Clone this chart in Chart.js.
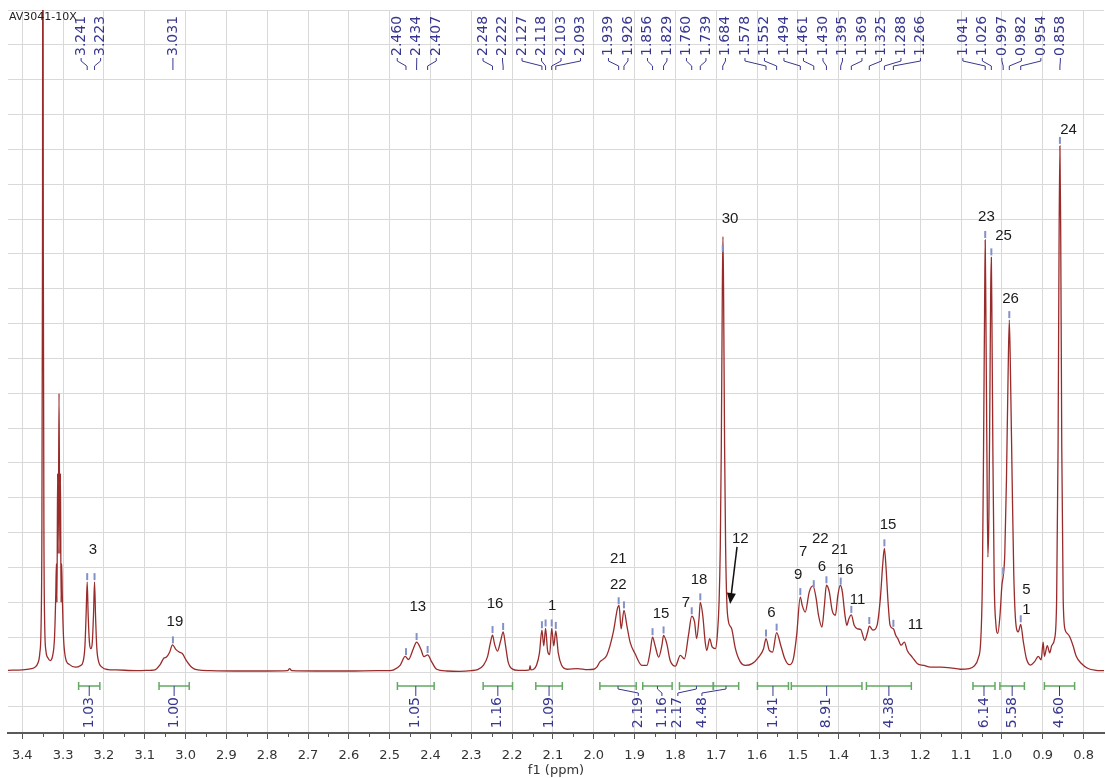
<!DOCTYPE html>
<html>
<head>
<meta charset="utf-8">
<script src="https://cdn.jsdelivr.net/npm/chart.js@4.4.1/dist/chart.umd.min.js"></script>
<style>
  html, body { margin: 0; padding: 0; background: #fff; }
  #wrap { width: 1106px; height: 778px; }
</style>
</head>
<body>
<div id="wrap"><canvas id="nmr" width="1106" height="778"></canvas></div>
<script>
// spectrum: chemical shift (ppm) and intensity (grid units, baseline ~0)
const ppm = [
  3.435, 3.40, 3.38, 3.37, 3.362, 3.357, 3.354, 3.352, 3.3505, 3.3495, 3.3485, 3.347, 3.345, 3.342, 3.337,
  3.332, 3.326, 3.321, 3.318, 3.3165, 3.315, 3.3135, 3.312, 3.310, 3.308, 3.3065, 3.305, 3.3035, 3.302, 3.299,
  3.294, 3.285, 3.270, 3.258, 3.251, 3.2465, 3.2435, 3.241, 3.2385, 3.2355, 3.232, 3.2285, 3.2255, 3.223, 3.2205,
  3.2175, 3.213, 3.205, 3.19, 3.17, 3.12, 3.085, 3.075, 3.063, 3.053, 3.047, 3.039, 3.032, 3.024, 3.015,
  3.008, 2.998, 2.985, 2.970, 2.94, 2.88, 2.80, 2.75, 2.745, 2.740, 2.68, 2.60, 2.53, 2.500, 2.490,
  2.474, 2.462, 2.454, 2.442, 2.434, 2.424, 2.416, 2.407, 2.397, 2.385, 2.36, 2.33, 2.30, 2.285, 2.270,
  2.260, 2.253, 2.248, 2.243, 2.236, 2.228, 2.222, 2.216, 2.210, 2.200, 2.185, 2.165, 2.158, 2.156, 2.154,
  2.147, 2.140, 2.133, 2.127, 2.1225, 2.118, 2.113, 2.108, 2.103, 2.098, 2.093, 2.087, 2.079, 2.065, 2.04,
  2.015, 2.000, 1.992, 1.985, 1.968, 1.952, 1.942, 1.938, 1.933, 1.926, 1.919, 1.911, 1.899, 1.882, 1.870,
  1.862, 1.856, 1.850, 1.841, 1.833, 1.829, 1.821, 1.813, 1.800, 1.788, 1.778, 1.768, 1.760, 1.753, 1.748,
  1.742, 1.739, 1.733, 1.727, 1.723, 1.716, 1.710, 1.702, 1.697, 1.693, 1.690, 1.6875, 1.685, 1.6835, 1.682,
  1.6795, 1.677, 1.674, 1.670, 1.666, 1.662, 1.653, 1.641, 1.629, 1.612, 1.596, 1.584, 1.578, 1.570, 1.562,
  1.552, 1.542, 1.532, 1.521, 1.511, 1.503, 1.494, 1.489, 1.482, 1.472, 1.463, 1.455, 1.450, 1.441, 1.435,
  1.430, 1.423, 1.416, 1.408, 1.402, 1.396, 1.391, 1.385, 1.380, 1.375, 1.369, 1.362, 1.354, 1.346, 1.336,
  1.329, 1.325, 1.316, 1.306, 1.298, 1.292, 1.288, 1.284, 1.279, 1.274, 1.266, 1.260, 1.255, 1.247, 1.239,
  1.232, 1.220, 1.207, 1.191, 1.175, 1.150, 1.126, 1.102, 1.080, 1.069, 1.058, 1.052, 1.048, 1.045, 1.0425,
  1.041, 1.0395, 1.037, 1.0345, 1.032, 1.0295, 1.0275, 1.026, 1.0245, 1.022, 1.019, 1.015, 1.010, 1.005, 1.000,
  0.997, 0.993, 0.989, 0.985, 0.982, 0.979, 0.975, 0.971, 0.966, 0.960, 0.954, 0.948, 0.940, 0.930, 0.920,
  0.911, 0.904, 0.899, 0.896, 0.889, 0.883, 0.878, 0.871, 0.866, 0.8625, 0.860, 0.858, 0.856, 0.8535, 0.850,
  0.845, 0.840, 0.834, 0.826, 0.818, 0.806, 0.789, 0.770, 0.750
];
const inten = [
  0.05, 0.06, 0.09, 0.13, 0.25, 0.55, 1.3, 4.0, 12, 26, 12, 4.0, 1.3, 0.6, 0.4,
  0.33, 0.45, 1.0, 2.2, 3.1, 2.0, 5.7, 3.4, 8.0, 3.4, 5.7, 2.0, 3.1, 2.2, 1.0,
  0.4, 0.22, 0.14, 0.18, 0.3, 0.75, 1.7, 2.58, 1.6, 0.85, 0.67, 0.85, 1.65, 2.58, 1.6,
  0.7, 0.3, 0.14, 0.07, 0.06, 0.04, 0.05, 0.06, 0.2, 0.4, 0.43, 0.57, 0.78, 0.65, 0.57,
  0.53, 0.33, 0.14, 0.06, 0.04, 0.03, 0.03, 0.04, 0.1, 0.04, 0.03, 0.03, 0.04, 0.04, 0.06,
  0.2, 0.45, 0.36, 0.67, 0.86, 0.67, 0.44, 0.49, 0.29, 0.08, 0.03, 0.02, 0.04, 0.07, 0.2,
  0.45, 0.85, 1.06, 0.8, 0.6, 0.9, 1.15, 0.75, 0.3, 0.09, 0.05, 0.05, 0.06, 0.18, 0.06,
  0.08, 0.2, 0.55, 1.2, 0.75, 1.25, 0.6, 0.5, 1.25, 0.75, 1.18, 0.55, 0.2, 0.08, 0.1,
  0.07, 0.08, 0.15, 0.29, 0.48, 1.15, 1.82, 1.91, 1.24, 1.77, 1.34, 0.86, 0.53, 0.19, 0.19,
  0.57, 1.0, 0.77, 0.43, 0.77, 1.05, 0.81, 0.34, 0.17, 0.48, 0.38, 1.05, 1.6, 1.43, 0.96,
  1.55, 2.0, 1.63, 0.86, 0.62, 0.96, 0.72, 0.67, 1.1, 2.0, 3.6, 6.5, 11.0, 12.5, 11.0,
  6.5, 3.6, 2.0, 1.45, 1.32, 1.24, 0.67, 0.29, 0.19, 0.24, 0.43, 0.67, 0.96, 0.62, 0.57,
  1.13, 0.77, 0.38, 0.21, 0.38, 1.05, 2.15, 1.9, 1.72, 2.3, 2.47, 2.1, 1.67, 1.29, 1.91,
  2.49, 2.3, 1.77, 1.63, 2.2, 2.49, 2.3, 1.67, 1.34, 1.53, 1.64, 1.34, 1.24, 1.22, 0.91,
  1.15, 1.32, 1.2, 1.34, 2.1, 3.1, 3.55, 3.0, 2.0, 1.34, 1.24, 1.05, 0.96, 0.77, 0.86,
  0.62, 0.43, 0.24, 0.19, 0.14, 0.14, 0.12, 0.08, 0.1, 0.16, 0.4, 0.9, 2.6, 6.5, 10.5,
  12.4, 10.5, 6.5, 3.3, 4.5, 8.0, 11.0, 11.9, 10.0, 6.0, 2.6, 1.4, 1.11, 1.6, 2.5,
  2.75, 3.4, 5.5, 8.5, 10.1, 8.5, 5.5, 2.8, 1.4, 1.15, 1.37, 0.9, 0.38, 0.2, 0.3,
  0.45, 0.35, 0.86, 0.45, 0.76, 0.55, 0.76, 0.96, 2.1, 6.5, 12.5, 15.1, 12.5, 6.5, 2.1,
  1.2, 1.11, 1.01, 0.76, 0.45, 0.25, 0.1, 0.05, 0.04
];

// peak picking labels along the top
const peakLabels = [
  '3.241', '3.223', '3.031', '2.460', '2.434', '2.407', '2.248', '2.222', '2.127', '2.118', '2.103', '2.093',
  '1.939', '1.926', '1.856', '1.829', '1.760', '1.739', '1.684', '1.578', '1.552', '1.494', '1.461', '1.430',
  '1.395', '1.369', '1.325', '1.288', '1.266', '1.041', '1.026', '0.997', '0.982', '0.954', '0.858'
];

// integrals: ranges (ppm), values, label position (null = centre of range)
const intFrom = [3.262, 3.065, 2.481, 2.271, 2.142, 1.985, 1.880, 1.790, 1.707, 1.599, 1.516, 1.332, 1.071, 1.005, 0.896];
const intTo = [3.210, 2.991, 2.391, 2.199, 2.077, 1.896, 1.808, 1.707, 1.645, 1.523, 1.343, 1.222, 1.017, 0.945, 0.822];
const intValue = ['1.03', '1.00', '1.05', '1.16', '1.09', '2.19', '1.16', '2.17', '4.48', '1.41', '8.91', '4.38', '6.14', '5.58', '4.60'];
const intLabelAt = [null, null, null, null, null, 1.891, 1.833, 1.794, 1.735, null, null, null, null, null, null];

// proton assignments written on the spectrum
const assignText = ['3', '19', '13', '16', '1', '21', '22', '15', '7', '18', '30', '12', '6', '9', '7', '22', '6', '21', '16', '11', '15', '11', '23', '25', '26', '5', '1', '24'];
const assignPpm = [3.227, 3.026, 2.431, 2.242, 2.102, 1.940, 1.940, 1.835, 1.774, 1.742, 1.666, 1.641, 1.565, 1.499, 1.487, 1.445, 1.441, 1.398, 1.384, 1.354, 1.279, 1.212, 1.038, 0.996, 0.979, 0.940, 0.940, 0.837];
const assignInt = [3.50, 1.43, 1.87, 1.95, 1.89, 3.24, 2.50, 1.66, 1.98, 2.64, 13.0, 3.82, 1.69, 2.78, 3.44, 3.82, 3.01, 3.50, 2.93, 2.07, 4.22, 1.35, 13.06, 12.51, 10.70, 2.35, 1.78, 15.55];
const arrowFrom = [1.649, 3.59];
const arrowTo = [1.666, 1.95];

const NAVY = '#37378f';
const LABEL_FONT = '14px "DejaVu Sans"';

const nmrDecor = {
  id: 'nmrDecor',
  afterDatasetsDraw(chart) {
    const ctx = chart.ctx;
    const xs = chart.scales.x, ys = chart.scales.y;
    const area = chart.chartArea;
    const pts = chart.getDatasetMeta(0).data;

    function lineY(v) {
      for (let i = 0; i < ppm.length - 1; i++) {
        if (ppm[i] >= v && v >= ppm[i + 1]) {
          const t = (ppm[i] - v) / (ppm[i] - ppm[i + 1]);
          return pts[i].y + t * (pts[i + 1].y - pts[i].y);
        }
      }
      return ys.getPixelForValue(0);
    }

    // minor ticks on the ppm axis
    ctx.save();
    ctx.strokeStyle = '#555';
    ctx.lineWidth = 1;
    for (let v = 0.85; v < 3.43; v += 0.1) {
      const x = Math.round(xs.getPixelForValue(v)) + 0.5;
      ctx.beginPath();
      ctx.moveTo(x, area.bottom);
      ctx.lineTo(x, area.bottom + 4);
      ctx.stroke();
    }
    ctx.restore();

    // spread the peak labels so they don't overlap
    const GAP = 19.5;
    const peakPx = peakLabels.map(l => xs.getPixelForValue(parseFloat(l)));
    let clusters = peakPx.map((p, i) => ({ start: i, end: i, sum: p }));
    const place = (c, k) => {
      const n = c.end - c.start + 1;
      return c.sum / n + (k - c.start - (n - 1) / 2) * GAP;
    };
    let merged = true;
    while (merged) {
      merged = false;
      for (let i = 0; i < clusters.length - 1; i++) {
        const a = clusters[i], b = clusters[i + 1];
        if (place(b, b.start) - place(a, a.end) < GAP) {
          clusters.splice(i, 2, { start: a.start, end: b.end, sum: a.sum + b.sum });
          merged = true;
          break;
        }
      }
    }
    const labelX = [];
    clusters.forEach(c => { for (let k = c.start; k <= c.end; k++) labelX[k] = place(c, k); });

    const top = area.top;
    ctx.save();
    ctx.font = LABEL_FONT;
    ctx.fillStyle = NAVY;
    ctx.strokeStyle = NAVY;
    ctx.lineWidth = 1;
    peakLabels.forEach((l, i) => {
      const lx = labelX[i], px = peakPx[i];
      ctx.save();
      ctx.translate(lx, top + 46);
      ctx.rotate(-Math.PI / 2);
      ctx.textAlign = 'left';
      ctx.textBaseline = 'middle';
      ctx.fillText(l, 0, 0);
      ctx.restore();
      ctx.beginPath();
      ctx.moveTo(lx, top + 48);
      ctx.lineTo(lx, top + 51);
      ctx.lineTo(px, top + 56);
      ctx.lineTo(px, top + 60);
      ctx.stroke();
    });
    ctx.restore();

    // small peak markers
    ctx.save();
    ctx.strokeStyle = '#8391c9';
    ctx.lineWidth = 2;
    peakPx.forEach((px, i) => {
      const y = lineY(parseFloat(peakLabels[i]));
      ctx.beginPath();
      ctx.moveTo(px, y - 9);
      ctx.lineTo(px, y - 2);
      ctx.stroke();
    });
    ctx.restore();

    // integrals
    const barY = 686;
    ctx.save();
    intFrom.forEach((f, i) => {
      const x1 = xs.getPixelForValue(f), x2 = xs.getPixelForValue(intTo[i]);
      const cx = (x1 + x2) / 2;
      const lx = intLabelAt[i] === null ? cx : xs.getPixelForValue(intLabelAt[i]);
      ctx.strokeStyle = '#62aa62';
      ctx.lineWidth = 1.5;
      ctx.beginPath();
      ctx.moveTo(x1, barY); ctx.lineTo(x2, barY);
      ctx.moveTo(x1, barY - 4); ctx.lineTo(x1, barY + 4);
      ctx.moveTo(x2, barY - 4); ctx.lineTo(x2, barY + 4);
      ctx.stroke();
      ctx.strokeStyle = NAVY;
      ctx.lineWidth = 1;
      ctx.beginPath();
      ctx.moveTo(cx, barY);
      ctx.lineTo(cx, barY + 3);
      ctx.lineTo(lx, barY + 7);
      ctx.lineTo(lx, barY + 10);
      ctx.stroke();
      ctx.save();
      ctx.font = LABEL_FONT;
      ctx.fillStyle = NAVY;
      ctx.translate(lx, barY + 11);
      ctx.rotate(-Math.PI / 2);
      ctx.textAlign = 'right';
      ctx.textBaseline = 'middle';
      ctx.fillText(intValue[i], 0, 0);
      ctx.restore();
    });
    ctx.restore();

    // assignments
    ctx.save();
    ctx.font = '15px "Liberation Sans"';
    ctx.fillStyle = '#1a1a1a';
    ctx.textAlign = 'center';
    ctx.textBaseline = 'middle';
    assignText.forEach((t, i) => {
      ctx.fillText(t, xs.getPixelForValue(assignPpm[i]), ys.getPixelForValue(assignInt[i]));
    });
    // arrow for 12
    const ax1 = xs.getPixelForValue(arrowFrom[0]), ay1 = ys.getPixelForValue(arrowFrom[1]);
    const ax2 = xs.getPixelForValue(arrowTo[0]), ay2 = ys.getPixelForValue(arrowTo[1]);
    const ang = Math.atan2(ay2 - ay1, ax2 - ax1);
    ctx.strokeStyle = '#111';
    ctx.fillStyle = '#111';
    ctx.lineWidth = 1.5;
    ctx.beginPath();
    ctx.moveTo(ax1, ay1);
    ctx.lineTo(ax2 - 8 * Math.cos(ang), ay2 - 8 * Math.sin(ang));
    ctx.stroke();
    ctx.beginPath();
    ctx.moveTo(ax2, ay2);
    ctx.lineTo(ax2 - 11 * Math.cos(ang) + 4.5 * Math.sin(ang), ay2 - 11 * Math.sin(ang) - 4.5 * Math.cos(ang));
    ctx.lineTo(ax2 - 11 * Math.cos(ang) - 4.5 * Math.sin(ang), ay2 - 11 * Math.sin(ang) + 4.5 * Math.cos(ang));
    ctx.closePath();
    ctx.fill();
    ctx.restore();

    // sample name
    ctx.save();
    ctx.font = '11px "DejaVu Sans"';
    ctx.fillStyle = '#222';
    ctx.textAlign = 'left';
    ctx.textBaseline = 'alphabetic';
    ctx.fillText('AV3041-10X', area.left + 1, area.top + 10);
    ctx.restore();
  }
};

const ctx = document.getElementById('nmr').getContext('2d');
new Chart(ctx, {
  type: 'line',
  data: {
    datasets: [{
      data: ppm.map((p, i) => ({ x: p, y: inten[i] })),
      borderColor: '#9a2b2b',
      borderWidth: 1.3,
      pointRadius: 0,
      fill: false,
      cubicInterpolationMode: 'monotone'
    }]
  },
  options: {
    responsive: false,
    animation: false,
    layout: { padding: { left: 8, right: 2, top: 10, bottom: 0 } },
    plugins: { legend: { display: false }, tooltip: { enabled: false } },
    scales: {
      x: {
        type: 'linear',
        reverse: true,
        min: 0.75,
        max: 3.435,
        afterFit(scale) { scale.height = 45; },
        border: { display: true, color: '#5a5a5a', width: 2 },
        grid: { color: '#d9d9d9', lineWidth: 1, tickColor: '#555', tickLength: 6 },
        ticks: {
          stepSize: 0.1,
          includeBounds: false,
          autoSkip: false,
          maxRotation: 0,
          padding: 9,
          color: '#333',
          font: { family: 'DejaVu Sans', size: 13 },
          callback: v => v.toFixed(1)
        },
        title: {
          display: true,
          text: 'f1 (ppm)',
          color: '#333',
          font: { family: 'DejaVu Sans', size: 13 },
          padding: { top: 0, bottom: 0 }
        }
      },
      y: {
        min: -1.75,
        max: 19,
        afterFit(scale) { scale.width = 0; },
        border: { display: false },
        grid: { color: '#d9d9d9', lineWidth: 1, drawTicks: false },
        ticks: { display: false, stepSize: 1, includeBounds: false }
      }
    }
  },
  plugins: [nmrDecor]
});
</script>
</body>
</html>
